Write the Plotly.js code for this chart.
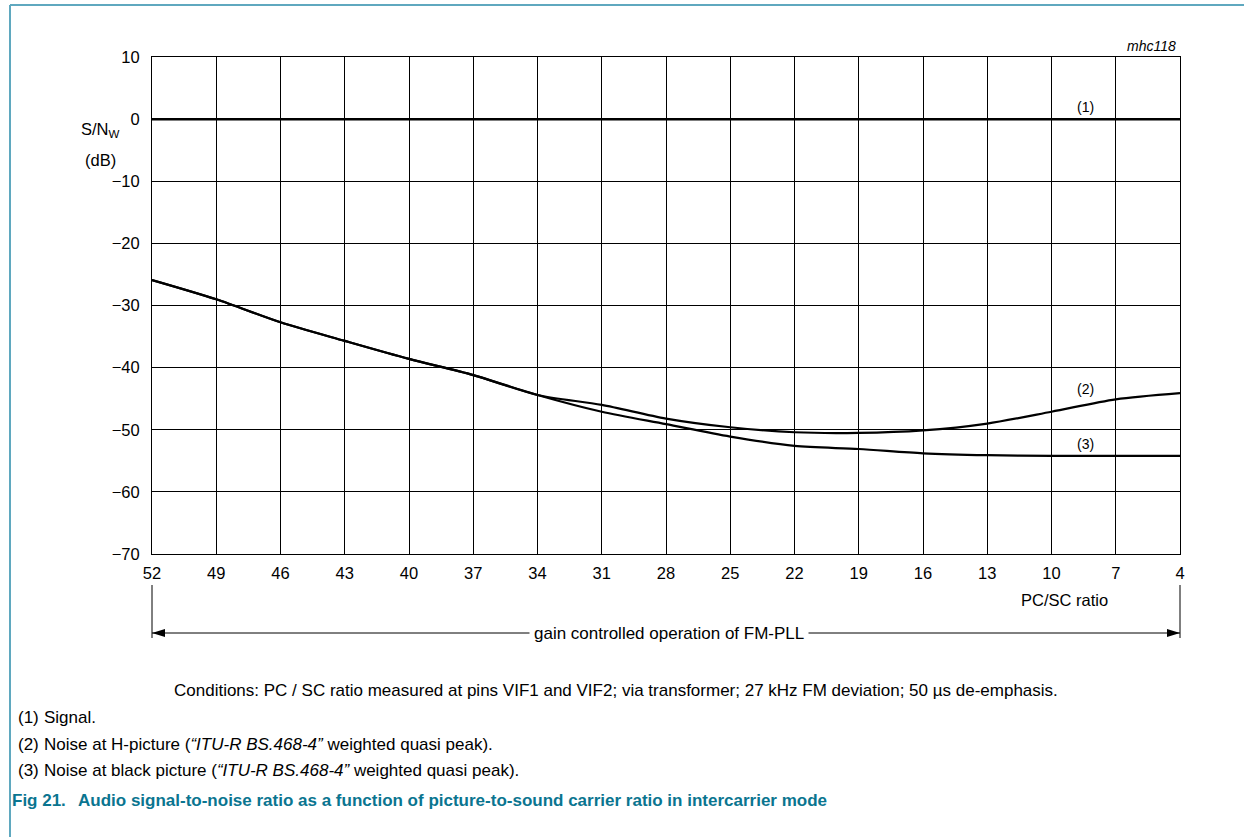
<!DOCTYPE html>
<html><head><meta charset="utf-8">
<script src="https://cdn.plot.ly/plotly-3.0.1.min.js"></script>
<style>html,body{margin:0;padding:0;background:#fff;}#chart{width:1244px;height:837px;}</style>
</head><body><div id="chart"></div>
<script>
// ---- data ----
const xTicks = [52,49,46,43,40,37,34,31,28,25,22,19,16,13,10,7,4];
const yTicks = [10,0,-10,-20,-30,-40,-50,-60,-70];
const yTickText = ['10','0','\u221210','\u221220','\u221230','\u221240','\u221250','\u221260','\u221270'];
const signalX = [52,4];
const signalY = [0,0];
const hPicX = [52,49,46,43,40,37,34,31,28,25,22,19,16,13,10,7,4];
const hPicY = [-25.9,-29.0,-32.7,-35.7,-38.6,-41.2,-44.4,-46.0,-48.2,-49.6,-50.4,-50.5,-50.1,-49.0,-47.1,-45.1,-44.1];
const blackPicX = [52,49,46,43,40,37,34,31,28,25,22,19,16,13,10,7,4];
const blackPicY = [-25.9,-29.0,-32.7,-35.7,-38.6,-41.2,-44.4,-47.1,-49.1,-51.1,-52.6,-53.1,-53.8,-54.1,-54.2,-54.2,-54.2];

// ---- layout geometry (pixels) ----
const W=1244,H=837,L=152,R=1180,T=57,B=554;
const px=x=>(x-L)/(R-L);
const py=y=>(B-y)/(B-T);
const FONT='"Liberation Sans", Arial, sans-serif';
const TEAL='#0a7590';

const traces=[
 {x:signalX,y:signalY,mode:'lines',line:{color:'#000',width:2.5},hoverinfo:'skip'},
 {x:hPicX,y:hPicY,mode:'lines',line:{color:'#000',width:2.2,shape:'spline',smoothing:0.8},hoverinfo:'skip'},
 {x:blackPicX,y:blackPicY,mode:'lines',line:{color:'#000',width:2.2,shape:'spline',smoothing:0.8},hoverinfo:'skip'}
];

const f=(s,c)=>({family:FONT,size:s,color:c||'#000'});
const ann=(x,y,text,opt)=>Object.assign({xref:'paper',yref:'paper',x:px(x),y:py(y),text:text,showarrow:false,font:f(16.5)},opt||{});

const annotations=[
 ann(1178,46,'<i>mhc118</i>',{xanchor:'right',yanchor:'middle',font:f(14)}),
 ann(100,130,'S/N<sub>W</sub>',{xanchor:'center',yanchor:'middle'}),
 ann(100,160,'(dB)',{xanchor:'center',yanchor:'middle'}),
 ann(1085,107,'(1)',{xanchor:'center',yanchor:'middle',font:f(14)}),
 ann(1085,389,'(2)',{xanchor:'center',yanchor:'middle',font:f(14)}),
 ann(1085,444,'(3)',{xanchor:'center',yanchor:'middle',font:f(14)}),
 ann(1064,600,'PC/SC ratio',{xanchor:'center',yanchor:'middle'}),
 ann(669,633,'gain controlled operation of FM-PLL',{xanchor:'center',yanchor:'middle',bgcolor:'#fff',borderpad:4,font:f(17)}),
 ann(172,690,'Conditions: PC / SC ratio measured at pins VIF1 and VIF2; via transformer; 27 kHz FM deviation; 50 \u00b5s de-emphasis.',{xanchor:'left',yanchor:'middle',font:f(17)}),
 ann(16,717,'(1)',{xanchor:'left',yanchor:'middle',font:f(17)}),
 ann(42,717,'Signal.',{xanchor:'left',yanchor:'middle',font:f(17)}),
 ann(16,744,'(2)',{xanchor:'left',yanchor:'middle',font:f(17)}),
 ann(42,744,'Noise at H-picture (<i>\u201cITU-R BS.468-4\u201d</i> weighted quasi peak).',{xanchor:'left',yanchor:'middle',font:f(17)}),
 ann(16,771,'(3)',{xanchor:'left',yanchor:'middle',font:f(17)}),
 ann(42,771,'Noise at black picture (<i>\u201cITU-R BS.468-4\u201d</i> weighted quasi peak).',{xanchor:'left',yanchor:'middle',font:f(17)}),
 ann(10,800,'<b>Fig 21.</b>',{xanchor:'left',yanchor:'middle',font:f(17,TEAL)}),
 ann(76,800,'<b>Audio signal-to-noise ratio as a function of picture-to-sound carrier ratio in intercarrier mode</b>',{xanchor:'left',yanchor:'middle',font:f(17,TEAL)})
];

const tri=(xTip,yTip,dir)=>{
  const len=13,half=4;
  const xb=xTip+dir*len;
  return {type:'path',xref:'paper',yref:'paper',
    path:`M ${px(xTip)} ${py(yTip)} L ${px(xb)} ${py(yTip-half)} L ${px(xb)} ${py(yTip+half)} Z`,
    fillcolor:'#000',line:{color:'#000',width:0}};
};

const shapes=[
 {type:'line',xref:'paper',yref:'paper',x0:px(10),x1:px(1244),y0:py(5),y1:py(5),line:{color:'#5fa8bf',width:2}},
 {type:'line',xref:'paper',yref:'paper',x0:px(10),x1:px(10),y0:py(5),y1:py(837),line:{color:'#5fa8bf',width:2}},
 {type:'line',xref:'paper',yref:'paper',x0:px(152),x1:px(152),y0:py(585),y1:py(638),line:{color:'#000',width:1}},
 {type:'line',xref:'paper',yref:'paper',x0:px(1180),x1:px(1180),y0:py(585),y1:py(638),line:{color:'#000',width:1}},
 {type:'line',xref:'paper',yref:'paper',x0:px(152),x1:px(1180),y0:py(633),y1:py(633),line:{color:'#000',width:1}},
 tri(152,633,1),
 tri(1180,633,-1)
];

const layout={
 width:W,height:H,
 margin:{l:L,r:W-R,t:T,b:H-B,pad:0},
 paper_bgcolor:'#fff',plot_bgcolor:'#fff',
 showlegend:false,
 font:{family:FONT,size:16.5,color:'#000'},
 xaxis:{range:[52,4],tickvals:xTicks,ticktext:xTicks.map(String),showgrid:true,gridcolor:'#000',gridwidth:1,
   showline:true,linecolor:'#000',linewidth:1,mirror:true,zeroline:false,ticks:'',ticklabelstandoff:4,
   tickfont:f(16.5)},
 yaxis:{range:[-70,10],tickvals:yTicks,ticktext:yTickText,showgrid:true,gridcolor:'#000',gridwidth:1,
   showline:true,linecolor:'#000',linewidth:1,mirror:true,zeroline:false,ticks:'',ticklabelstandoff:8,
   tickfont:f(16.5)},
 annotations:annotations,shapes:shapes
};
Plotly.newPlot('chart',traces,layout,{staticPlot:true,displayModeBar:false});
</script></body></html>
